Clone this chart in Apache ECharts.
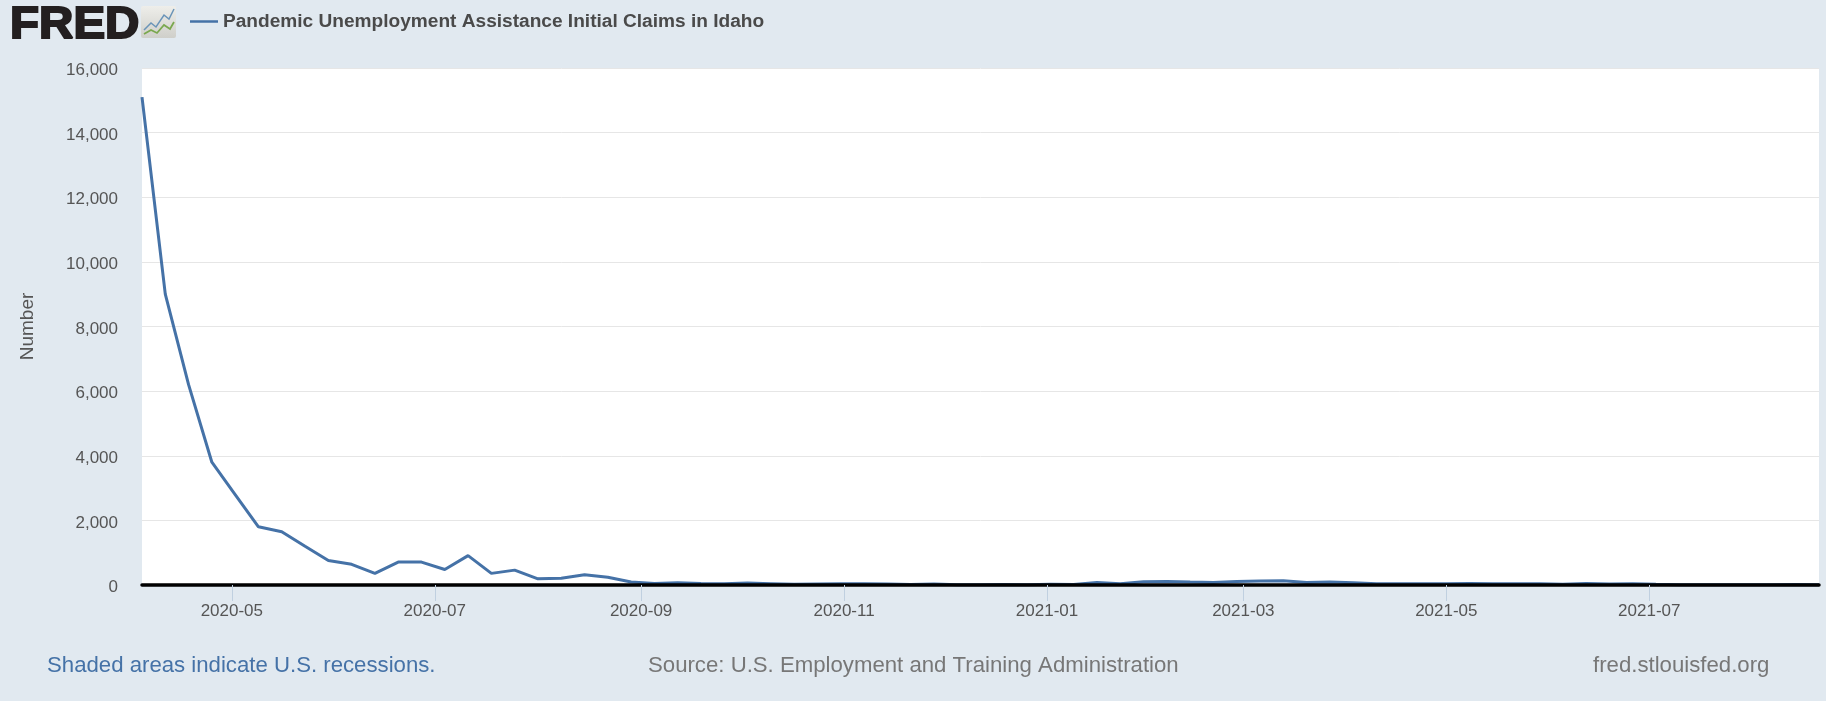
<!DOCTYPE html>
<html>
<head>
<meta charset="utf-8">
<style>html,body{margin:0;padding:0;background:#e1e9f0}#c{width:1826px;height:701px}</style>
<script src="https://cdn.jsdelivr.net/npm/echarts@6/dist/echarts.min.js"></script>
</head>
<body>
<div id="c"></div>
<script>
const seriesName = "Pandemic Unemployment Assistance Initial Claims in Idaho";
const dates = [
"2020-04-04","2020-04-11","2020-04-18","2020-04-25","2020-05-02","2020-05-09","2020-05-16","2020-05-23","2020-05-30",
"2020-06-06","2020-06-13","2020-06-20","2020-06-27","2020-07-04","2020-07-11","2020-07-18","2020-07-25",
"2020-08-01","2020-08-08","2020-08-15","2020-08-22","2020-08-29","2020-09-05","2020-09-12","2020-09-19","2020-09-26",
"2020-10-03","2020-10-10","2020-10-17","2020-10-24","2020-10-31","2020-11-07","2020-11-14","2020-11-21","2020-11-28",
"2020-12-05","2020-12-12","2020-12-19","2020-12-26","2021-01-02","2021-01-09","2021-01-16","2021-01-23","2021-01-30",
"2021-02-06","2021-02-13","2021-02-20","2021-02-27","2021-03-06","2021-03-13","2021-03-20","2021-03-27",
"2021-04-03","2021-04-10","2021-04-17","2021-04-24","2021-05-01","2021-05-08","2021-05-15","2021-05-22","2021-05-29",
"2021-06-05","2021-06-12","2021-06-19","2021-06-26","2021-07-03","2021-07-10","2021-07-17","2021-07-24","2021-07-31",
"2021-08-07","2021-08-14","2021-08-21"];
const claims = [
15100,9000,6200,3800,2800,1800,1650,1200,760,
640,360,710,710,480,910,360,460,
190,210,320,240,90,50,70,50,40,
60,40,20,30,40,40,30,15,30,
5,10,15,10,20,15,80,40,100,
110,90,80,110,120,130,80,90,
70,40,40,40,40,50,40,40,40,
25,45,30,35,20,10,10,5,10,
10,15,5];
const tickDates = ["2020-05-01","2020-07-01","2020-09-01","2020-11-01","2021-01-01","2021-03-01","2021-05-01","2021-07-01"];
const yTicks = [0,2000,4000,6000,8000,10000,12000,14000,16000];
const logoBlue = [[3,24],[10,17],[15,21],[23,9],[28,13],[33,3]];
const logoGreen = [[3,28],[10,24],[16,27],[23,19],[29,23],[33,16]];

const toMs = s => { const [y,m,d] = s.split("-").map(Number); return Date.UTC(y,m-1,d); };
const chart = echarts.init(document.getElementById("c"), null, {renderer:"canvas"});
const FONT = "'Liberation Sans', Arial, sans-serif";
const footer = (text, x, color) => ({
  type:"text", left:x, top:655, style:{text, fill:color, font:"22.2px "+FONT}
});
chart.setOption({
  backgroundColor:"#e1e9f0",
  animation:false,
  grid:{left:142, right:7, top:68, bottom:116, show:true, backgroundColor:"#ffffff", borderWidth:0},
  legend:{
    left:185, top:7, itemWidth:28, itemHeight:2.5, icon:"rect",
    data:[seriesName],
    textStyle:{color:"#4a4a4a", fontFamily:FONT, fontWeight:"bold", fontSize:19.1}
  },
  xAxis:{
    type:"value",
    min:toMs(dates[0]), max:toMs(dates[dates.length-1]),
    z:5,
    axisLine:{show:true, onZero:false, lineStyle:{color:"#000000", width:3.5}},
    axisTick:{show:true, length:16, customValues:tickDates.map(toMs), lineStyle:{color:"#c0d0e0", width:1}},
    axisLabel:{
      show:true, margin:18, color:"#555555", fontFamily:FONT, fontSize:17,
      customValues:tickDates.map(toMs),
      hideOverlap:false,
      formatter:v=>{const d=new Date(v);return d.getUTCFullYear()+"-"+String(d.getUTCMonth()+1).padStart(2,"0");}
    },
    splitLine:{show:false}, minorTick:{show:false}
  },
  yAxis:{
    type:"value", min:yTicks[0], max:yTicks[yTicks.length-1], interval:yTicks[1]-yTicks[0],
    name:"Number", nameLocation:"middle", nameGap:105, nameRotate:90,
    nameTextStyle:{color:"#555555", fontFamily:FONT, fontSize:19},
    axisLine:{show:false}, axisTick:{show:false},
    axisLabel:{margin:24, color:"#555555", fontFamily:FONT, fontSize:17, verticalAlign:"top", lineHeight:5,
      formatter:v=>v.toLocaleString("en-US")},
    splitLine:{show:true, lineStyle:{color:"#e6e6e6", width:1}}
  },
  series:[{
    name:seriesName, type:"line", showSymbol:false, symbol:"none", smooth:false,
    clip:false, z:3,
    lineStyle:{color:"#4572a7", width:3}, itemStyle:{color:"#4572a7"},
    data:dates.map((d,i)=>[toMs(d),claims[i]])
  }],
  graphic:[
    {type:"text", left:9, top:3, scaleX:1.08, style:{text:"FRED", fill:"#231f20", font:"900 44px 'Liberation Sans', Arial, sans-serif", stroke:"#231f20", lineWidth:2}},
    {type:"group", left:141, top:6, children:[
      {type:"rect", shape:{x:0,y:0,width:35,height:32,r:2}, style:{fill:new echarts.graphic.LinearGradient(0,0,0,1,[{offset:0,color:"#eeeeea"},{offset:1,color:"#cfcfca"}])}},
      {type:"polyline", shape:{points:logoBlue}, style:{stroke:"#6a94b8",fill:null,lineWidth:1.5}},
      {type:"polyline", shape:{points:logoGreen}, style:{stroke:"#7aa84f",fill:null,lineWidth:1.8}}
    ]},
    footer("Shaded areas indicate U.S. recessions.", 47, "#4572a7"),
    footer("Source: U.S. Employment and Training Administration", 648, "#777777"),
    footer("fred.stlouisfed.org", 1593, "#777777")
  ]
});
</script>
</body>
</html>
